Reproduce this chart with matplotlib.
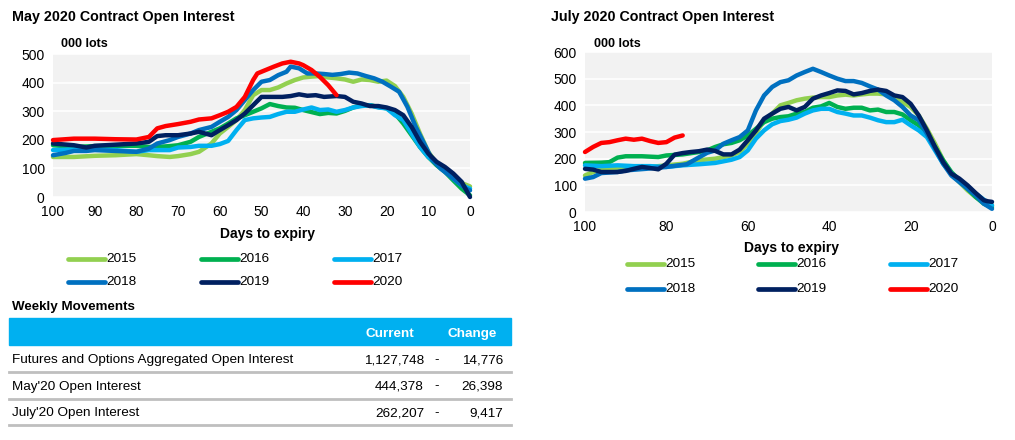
import matplotlib
matplotlib.use("Agg")
import matplotlib.pyplot as plt
from matplotlib.lines import Line2D
from matplotlib.patches import Rectangle

plt.rcParams['font.family'] = ['Liberation Sans', 'DejaVu Sans']

years = ["2015", "2016", "2017", "2018", "2019", "2020"]
colors = ["#92D050", "#00B050", "#00B0F0", "#0070C0", "#002060", "#FF0000"]

# ---- May contract open interest (000 lots) ----
may_days_15 = [100, 95, 90, 85, 80, 77, 75, 72, 70, 67, 65, 62, 60, 58, 56, 54, 52, 50, 48, 46, 44, 42, 40, 38, 36, 34, 32, 30, 28, 26, 24, 22, 20, 18, 16, 14, 12, 10, 8, 6, 4, 2, 0]
may_15 = [140, 140, 144, 146, 150, 146, 143, 140, 143, 150, 158, 187, 222, 245, 269, 304, 356, 374, 374, 383, 397, 409, 418, 421, 423, 418, 415, 411, 403, 411, 409, 403, 407, 388, 350, 292, 222, 158, 117, 93, 70, 49, 37]
may_days_16 = [100, 95, 90, 85, 80, 77, 75, 72, 70, 67, 65, 62, 60, 58, 56, 54, 52, 50, 48, 46, 44, 42, 40, 38, 36, 34, 32, 30, 28, 26, 24, 22, 20, 18, 16, 14, 12, 10, 8, 6, 4, 2, 0]
may_16 = [181, 175, 178, 179, 179, 175, 175, 178, 181, 193, 210, 228, 240, 257, 275, 286, 298, 310, 325, 318, 313, 312, 304, 297, 290, 294, 292, 301, 313, 321, 321, 315, 310, 292, 257, 216, 175, 140, 111, 88, 58, 29, 6]
may_days_17 = [100, 95, 90, 85, 80, 77, 75, 72, 70, 67, 65, 62, 60, 58, 56, 54, 52, 50, 48, 46, 44, 42, 40, 38, 36, 34, 32, 30, 28, 26, 24, 22, 20, 18, 16, 14, 12, 10, 8, 6, 4, 2, 0]
may_17 = [164, 166, 166, 164, 158, 164, 164, 164, 173, 175, 179, 179, 185, 196, 234, 269, 275, 278, 280, 290, 298, 298, 306, 313, 304, 306, 298, 304, 313, 318, 321, 313, 310, 286, 269, 222, 175, 140, 117, 93, 64, 41, 29]
may_days_18 = [100, 97, 95, 92, 90, 85, 80, 77, 75, 72, 70, 67, 65, 62, 60, 58, 56, 54, 52, 50, 48, 46, 44, 43, 41, 39, 37, 35, 33, 31, 29, 27, 25, 23, 21, 19, 17, 15, 13, 11, 9, 7, 5, 3, 1, 0]
may_18 = [146, 154, 161, 161, 164, 161, 158, 169, 187, 199, 210, 222, 234, 245, 263, 280, 304, 339, 374, 403, 409, 426, 438, 456, 450, 432, 432, 430, 427, 430, 435, 432, 423, 415, 403, 386, 368, 315, 245, 187, 129, 99, 76, 53, 29, 23]
may_days_19 = [100, 95, 92, 90, 85, 80, 77, 75, 73, 70, 67, 65, 62, 60, 58, 56, 54, 52, 50, 48, 45, 43, 41, 39, 37, 35, 32, 30, 28, 26, 24, 22, 20, 18, 16, 14, 12, 10, 8, 6, 4, 2, 0]
may_19 = [187, 181, 173, 179, 183, 187, 193, 213, 216, 216, 222, 228, 216, 234, 251, 269, 292, 321, 350, 350, 350, 353, 359, 354, 356, 350, 353, 350, 333, 327, 318, 318, 313, 304, 286, 245, 193, 152, 123, 105, 82, 53, 0]
may_days_20 = [100, 95, 90, 85, 80, 77, 75, 73, 70, 67, 65, 62, 60, 58, 56, 54, 52, 51, 49, 47, 45, 43, 41, 40, 38, 36, 34, 32]
may_20 = [199, 204, 204, 202, 201, 210, 240, 248, 255, 263, 271, 275, 286, 298, 315, 350, 409, 432, 444, 456, 467, 473, 467, 461, 444, 420, 391, 356]

# ---- July contract open interest (000 lots) ----
jul_days_15 = [100, 98, 96, 92, 88, 84, 80, 76, 72, 68, 64, 62, 60, 58, 56, 54, 52, 50, 48, 46, 44, 42, 40, 38, 36, 34, 32, 30, 28, 26, 24, 22, 20, 18, 16, 14, 12, 10, 8, 6, 4, 2, 0]
jul_15 = [137, 150, 159, 162, 169, 169, 175, 181, 194, 200, 212, 225, 256, 294, 344, 369, 400, 409, 419, 425, 429, 431, 431, 437, 440, 437, 441, 444, 444, 441, 431, 412, 394, 362, 312, 256, 194, 144, 112, 81, 56, 37, 25]
jul_days_16 = [100, 96, 94, 92, 90, 86, 82, 80, 76, 72, 70, 68, 66, 64, 62, 60, 58, 56, 54, 52, 50, 48, 46, 44, 42, 40, 38, 36, 34, 32, 30, 28, 26, 24, 22, 20, 18, 16, 14, 12, 10, 8, 6, 4, 2, 0]
jul_16 = [184, 185, 187, 204, 209, 209, 206, 212, 216, 225, 231, 244, 254, 259, 269, 287, 312, 337, 350, 356, 359, 369, 375, 391, 396, 409, 394, 387, 391, 391, 381, 384, 375, 375, 366, 344, 325, 294, 244, 194, 150, 119, 87, 56, 31, 19]
jul_days_17 = [100, 96, 92, 88, 84, 80, 76, 72, 68, 64, 62, 60, 58, 56, 54, 52, 50, 48, 46, 44, 42, 40, 38, 36, 34, 32, 30, 28, 26, 24, 22, 20, 18, 16, 14, 12, 10, 8, 6, 4, 2, 0]
jul_17 = [175, 172, 175, 172, 172, 169, 175, 179, 184, 196, 206, 231, 275, 306, 329, 341, 346, 354, 369, 381, 387, 387, 375, 369, 362, 362, 354, 344, 337, 337, 346, 325, 306, 281, 231, 181, 144, 119, 94, 69, 46, 25]
jul_days_18 = [100, 98, 96, 92, 90, 85, 80, 75, 70, 68, 66, 64, 62, 60, 58, 56, 54, 52, 50, 48, 46, 44, 42, 40, 38, 36, 34, 32, 30, 28, 26, 24, 22, 20, 18, 16, 14, 12, 10, 8, 6, 4, 2, 0]
jul_18 = [125, 131, 146, 150, 156, 162, 169, 179, 222, 231, 256, 269, 281, 306, 381, 437, 469, 487, 494, 512, 525, 537, 525, 512, 500, 491, 491, 484, 471, 459, 437, 419, 394, 362, 344, 294, 237, 181, 137, 112, 87, 62, 31, 12]
jul_days_19 = [100, 98, 96, 92, 90, 88, 86, 84, 82, 80, 78, 76, 74, 72, 70, 68, 66, 64, 62, 60, 58, 56, 54, 52, 50, 48, 46, 44, 42, 40, 38, 36, 34, 32, 30, 28, 26, 24, 22, 20, 18, 16, 14, 12, 10, 8, 6, 4, 2, 1, 0]
jul_19 = [162, 159, 150, 150, 154, 162, 169, 165, 160, 181, 215, 221, 225, 228, 234, 229, 216, 216, 234, 269, 306, 350, 369, 387, 394, 381, 394, 425, 437, 446, 456, 454, 441, 446, 454, 459, 454, 437, 431, 406, 362, 306, 244, 187, 144, 125, 100, 71, 44, 40, 38]
jul_days_20 = [100, 98, 96, 94, 92, 90, 88, 86, 84, 82, 80, 78, 76]
jul_20 = [225, 244, 259, 262, 269, 275, 271, 275, 266, 259, 262, 279, 287]

may_series = [(may_days_15, may_15), (may_days_16, may_16), (may_days_17, may_17),
              (may_days_18, may_18), (may_days_19, may_19), (may_days_20, may_20)]
jul_series = [(jul_days_15, jul_15), (jul_days_16, jul_16), (jul_days_17, jul_17),
              (jul_days_18, jul_18), (jul_days_19, jul_19), (jul_days_20, jul_20)]

# table
row_labels = ["Futures and Options Aggregated Open Interest", "May'20 Open Interest", "July'20 Open Interest"]
current = ["1,127,748", "444,378", "262,207"]
change = ["14,776", "26,398", "9,417"]

W, H = 1015, 440
fig = plt.figure(figsize=(W / 100, H / 100), dpi=100)


def fx(x):
    return x / W


def fy(y):
    return 1 - y / H


def make_axes(rect, series, ymax, xstep):
    ax = fig.add_axes(rect)
    ax.set_facecolor("#F2F2F2")
    for (d, v), c in zip(series, colors):
        ax.plot(d, v, color=c, lw=3.2, solid_capstyle="round", solid_joinstyle="round", clip_on=False)
    ax.set_xlim(100, 0)
    ax.set_ylim(0, ymax)
    ax.set_xticks(range(100, -1, -xstep))
    ax.set_yticks(range(0, ymax + 1, 100))
    ax.grid(axis="y", color="white", lw=1.2)
    ax.set_axisbelow(True)
    for s in ax.spines.values():
        s.set_visible(False)
    ax.tick_params(length=0, labelsize=10, pad=6)
    return ax


ax1 = make_axes([fx(53), fy(197), fx(470 - 53), (197 - 54) / H], may_series, 500, 10)
ax2 = make_axes([fx(585), fy(212), fx(992 - 585), (212 - 52) / H], jul_series, 600, 20)

# titles and labels
fig.text(fx(12), fy(17), "May 2020 Contract Open Interest", fontsize=10.3, fontweight="bold", va="center")
fig.text(fx(551), fy(17), "July 2020 Contract Open Interest", fontsize=10.3, fontweight="bold", va="center")
fig.text(fx(61), fy(44), "000 lots", fontsize=9, fontweight="bold", va="center")
fig.text(fx(594), fy(44), "000 lots", fontsize=9, fontweight="bold", va="center")
fig.text(fx(268), fy(234), "Days to expiry", fontsize=10, fontweight="bold", ha="center", va="center")
fig.text(fx(791), fy(248), "Days to expiry", fontsize=10, fontweight="bold", ha="center", va="center")


def legend(x0s, y0s):
    for i, (yr, c) in enumerate(zip(years, colors)):
        x = x0s[i % 3]
        y = y0s[i // 3]
        fig.add_artist(Line2D([fx(x), fx(x + 37)], [fy(y), fy(y)], color=c, lw=3.4,
                              solid_capstyle="round", transform=fig.transFigure))
        fig.text(fx(x + 38), fy(y), yr, fontsize=9.7, va="center")


legend([68, 201, 334], [259, 282])
legend([627, 758, 890], [264, 289])

# weekly movements table
fig.text(fx(12), fy(307), "Weekly Movements", fontsize=9.6, fontweight="bold", va="center")
fig.add_artist(Rectangle((fx(9), fy(345)), fx(511 - 9), (345 - 318) / H, color="#00B0F0",
                         transform=fig.transFigure))
fig.text(fx(390), fy(334), "Current", fontsize=9.7, fontweight="bold", color="white", ha="center", va="center")
fig.text(fx(472), fy(334), "Change", fontsize=9.7, fontweight="bold", color="white", ha="center", va="center")
for i, (lab, cur, chg) in enumerate(zip(row_labels, current, change)):
    y = 360 + i * 26.5
    fig.text(fx(12), fy(y), lab, fontsize=9.7, va="center")
    fig.text(fx(424), fy(y), cur, fontsize=9.7, va="center", ha="right")
    fig.text(fx(437), fy(y), "-", fontsize=9.7, va="center", ha="center")
    fig.text(fx(503), fy(y), chg, fontsize=9.7, va="center", ha="right")
    fig.add_artist(Line2D([fx(9), fx(511)], [fy(y + 12), fy(y + 12)], color="#BFBFBF", lw=2,
                          transform=fig.transFigure))

fig.savefig("out.png", dpi=100)
